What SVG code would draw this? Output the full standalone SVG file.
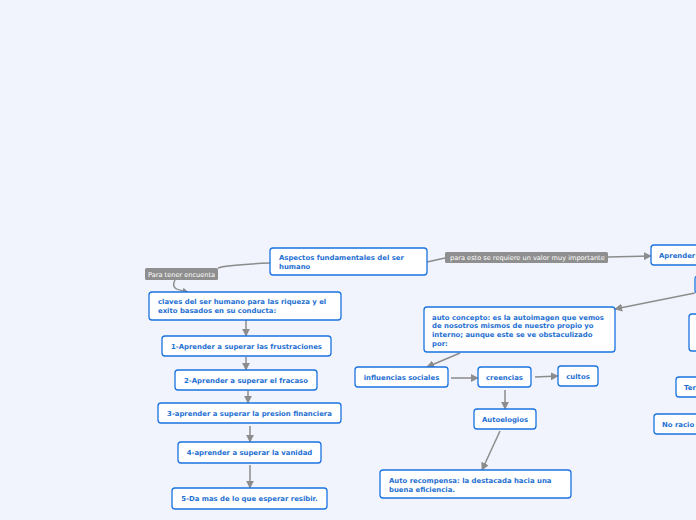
<svg xmlns="http://www.w3.org/2000/svg" width="696" height="520" viewBox="0 0 696 520">
<defs>
<marker id="ah" viewBox="0 0 10 10" refX="9" refY="5" markerWidth="6" markerHeight="6" markerUnits="userSpaceOnUse" orient="auto">
<path d="M0,0 L10,5 L0,10 z" fill="#8c8c8c"/>
</marker>
<marker id="ah2" viewBox="0 0 10 10" refX="9" refY="5" markerWidth="8" markerHeight="8" markerUnits="userSpaceOnUse" orient="auto">
<path d="M0,0 L10,5 L0,10 z" fill="#8c8c8c"/>
</marker>
</defs>
<style>
.n{fill:#ffffff;stroke:#1a73e0;stroke-width:1.3}
.t{font-family:"DejaVu Sans",Verdana,sans-serif;font-weight:bold;font-size:6.9px;fill:#1e6fd2}
.c{stroke:#8c8c8c;stroke-width:1.5;fill:none}
.lb{fill:#8f8f8f}
.lt{font-family:"DejaVu Sans",Verdana,sans-serif;font-size:6.6px;fill:#ffffff}
</style>
<rect width="696" height="520" fill="#f1f4fd"/>
<g id="connectors">
<path class="c" d="M270,263 C245,264 225,265 218,268"/>
<path class="c" d="M175,280 C170,290 180,290 188,292" marker-end="url(#ah)"/>
<path class="c" d="M427,262 L445,258"/>
<path class="c" d="M608,257 L651,256" marker-end="url(#ah2)"/>
<path class="c" d="M695,293 L615,309" marker-end="url(#ah2)"/>
<path class="c" d="M246,320 L246,336" marker-end="url(#ah2)"/>
<path class="c" d="M246,357 L246,370" marker-end="url(#ah2)"/>
<path class="c" d="M248,391 L248,403" marker-end="url(#ah2)"/>
<path class="c" d="M250,426 L250,442" marker-end="url(#ah2)"/>
<path class="c" d="M250,465 L250,488" marker-end="url(#ah2)"/>
<path class="c" d="M460,353 L427,367" marker-end="url(#ah2)"/>
<path class="c" d="M451,378 L478,378" marker-end="url(#ah2)"/>
<path class="c" d="M535,377 L558,376" marker-end="url(#ah2)"/>
<path class="c" d="M505,390 L505,409" marker-end="url(#ah2)"/>
<path class="c" d="M500,431 L482,470" marker-end="url(#ah2)"/>
</g>
<g id="lbl1"><rect class="lb" x="145" y="268" width="73" height="12" rx="1.5"/><text class="lt" x="148" y="276.5">Para tener encuenta</text></g>
<g id="lbl2"><rect class="lb" x="445" y="252" width="163" height="11" rx="1.5"/><text class="lt" x="450" y="260">para esto se requiere un valor muy importante</text></g>
<g id="aspectos"><rect class="n" x="270" y="248" width="157" height="27" rx="3"/><text class="t" x="279" y="259.5">Aspectos fundamentales del ser</text><text class="t" x="279" y="268.5">humano</text></g>
<g id="aprender"><rect class="n" x="651" y="245" width="60" height="20" rx="3"/><text class="t" x="659" y="257.5">Aprender</text></g>
<g id="right1"><rect class="n" x="695" y="276" width="20" height="17" rx="3"/></g>
<g id="right2"><rect class="n" x="689" y="314" width="20" height="37" rx="3"/></g>
<g id="ter"><rect class="n" x="676" y="377" width="40" height="20" rx="3"/><text class="t" x="684" y="389.5">Ter</text></g>
<g id="noracio"><rect class="n" x="654" y="414" width="60" height="20" rx="3"/><text class="t" x="662" y="426.5">No racio</text></g>
<g id="claves"><rect class="n" x="149" y="292" width="192" height="28" rx="3"/><text class="t" x="158" y="303.5">claves del ser humano para las riqueza y el</text><text class="t" x="158" y="313">exito basados en su conducta:</text></g>
<g id="s1"><rect class="n" x="162" y="336" width="169" height="20" rx="3"/><text class="t" x="246.5" y="348.5" text-anchor="middle">1-Aprender a superar las frustraciones</text></g>
<g id="s2"><rect class="n" x="175" y="370" width="142" height="20" rx="3"/><text class="t" x="246" y="382.5" text-anchor="middle">2-Aprender a superar el fracaso</text></g>
<g id="s3"><rect class="n" x="158" y="403" width="183" height="20" rx="3"/><text class="t" x="249.5" y="415.5" text-anchor="middle">3-aprender a superar la presion financiera</text></g>
<g id="s4"><rect class="n" x="178" y="442" width="143" height="21" rx="3"/><text class="t" x="249.5" y="455" text-anchor="middle">4-aprender a superar la vanidad</text></g>
<g id="s5"><rect class="n" x="172" y="488" width="155" height="21" rx="3"/><text class="t" x="249.5" y="501" text-anchor="middle">5-Da mas de lo que esperar resibir.</text></g>
<g id="autoconcepto"><rect class="n" x="424" y="307" width="191" height="45" rx="3"/><text class="t" x="432" y="319.5">auto concepto: es la autoimagen que vemos</text><text class="t" x="432" y="328">de nosotros mismos de nuestro propio yo</text><text class="t" x="432" y="337">interno; aunque este se ve obstaculizado</text><text class="t" x="432" y="346">por:</text></g>
<g id="influencias"><rect class="n" x="355" y="367" width="93" height="20" rx="3"/><text class="t" x="401.5" y="379.5" text-anchor="middle">influencias sociales</text></g>
<g id="creencias"><rect class="n" x="478" y="367" width="53" height="20" rx="3"/><text class="t" x="504.5" y="379.5" text-anchor="middle">creencias</text></g>
<g id="cultos"><rect class="n" x="558" y="366" width="40" height="20" rx="3"/><text class="t" x="578" y="378.5" text-anchor="middle">cultos</text></g>
<g id="autoelogios"><rect class="n" x="474" y="409" width="62" height="20" rx="3"/><text class="t" x="505" y="421.5" text-anchor="middle">Autoelogios</text></g>
<g id="autorecompensa"><rect class="n" x="380" y="470" width="191" height="28" rx="3"/><text class="t" x="389" y="482.5">Auto recompensa: la destacada hacia una</text><text class="t" x="389" y="491.5">buena eficiencia.</text></g>
</svg>
